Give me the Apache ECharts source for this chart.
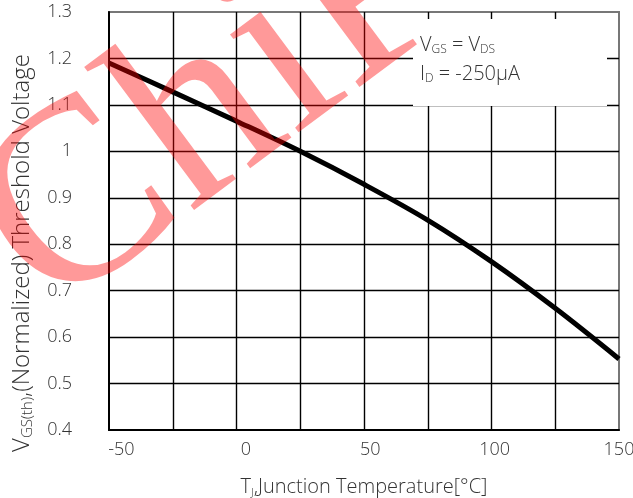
<!DOCTYPE html>
<html>
<head>
<meta charset="utf-8">
<script src="https://cdn.jsdelivr.net/npm/echarts@6/dist/echarts.min.js"></script>
<style>
  html, body { margin: 0; padding: 0; background: #fff; }
  #chart { width: 633px; height: 498px; }
</style>
</head>
<body>
<div id="chart"></div>
<script>
// ---- data ----
const temperature = [-55, -29.4, -3.75, 21.9, 47.5, 73.1, 98.6, 124.4, 150];
const vthNormalized = [1.19, 1.128, 1.065, 1.0, 0.929, 0.852, 0.763, 0.662, 0.553];
const xTickValues = [-50, 0, 50, 100, 150];
const xRange = [-55, 150];
const yRange = [0.4, 1.3];
const yStep = 0.1;
const gridColumns = 8;
const conditionLines = ['V{s|GS} = V{s|DS}', 'I{s|D} = -250μA'];
const xTitle = 'T{s|J},Junction Temperature[°C]';
const yTitle = 'V{s|GS(th)},(Normalized) Threshold Voltage';
const watermarkText = 'ChiPs';

const FONT = '"Open Sans", "Noto Sans", sans-serif';
const TXT = '#333';

const chart = echarts.init(document.getElementById('chart'), null, { renderer: 'canvas' });

const points = temperature.map((t, i) => [t, vthNormalized[i]]);

chart.setOption({
  animation: false,
  backgroundColor: '#fff',
  grid: {
    left: 109, right: 14, top: 12, bottom: 68,
    outerBoundsMode: 'none', containLabel: false,
    show: true, borderColor: '#777', borderWidth: 2, backgroundColor: 'transparent'
  },
  xAxis: [
    {
      type: 'value', min: xRange[0], max: xRange[1],
      axisLine: { show: true, onZero: false, lineStyle: { color: '#000', width: 2 } },
      axisTick: { show: false },
      splitLine: { show: false },
      axisLabel: {
        customValues: xTickValues, margin: 11,
        color: TXT, fontFamily: FONT, fontSize: 18, fontWeight: 300
      },
      name: xTitle, nameLocation: 'middle', nameGap: 47,
      nameTextStyle: {
        color: TXT, fontFamily: FONT, fontSize: 20, fontWeight: 300,
        rich: { s: { fontSize: 11, padding: [10, 0, 0, 0], color: TXT, fontFamily: FONT, fontWeight: 300 } }
      }
    },
    {
      type: 'value', min: 0, max: gridColumns, interval: 1, position: 'bottom',
      axisLine: { show: false }, axisTick: { show: false }, axisLabel: { show: false },
      splitLine: { show: true, showMinLine: false, showMaxLine: false, lineStyle: { color: '#000', width: 1.4 } }
    }
  ],
  yAxis: {
    type: 'value', min: yRange[0], max: yRange[1], interval: yStep,
    axisLine: { show: true, onZero: false, lineStyle: { color: '#000', width: 2 } },
    axisTick: { show: false },
    splitLine: { show: true, showMinLine: false, showMaxLine: false, lineStyle: { color: '#000', width: 1.4 } },
    axisLabel: {
      margin: 37, color: TXT, fontFamily: FONT, fontSize: 18, fontWeight: 300,
      formatter: v => String(Number(v.toFixed(1)))
    }
  },
  series: [{
    type: 'line', xAxisIndex: 0, data: points,
    smooth: 0.35, showSymbol: false, symbol: 'none',
    lineStyle: { color: '#000', width: 5 }, z: 5
  }],
  graphic: [
    {
      type: 'rect', z: 10,
      shape: { x: 413, y: 19, width: 194, height: 87 },
      style: { fill: '#fff' }
    },
    {
      type: 'text', z: 11, x: 420, y: 45,
      style: {
        text: conditionLines[0], fill: TXT, fontSize: 20, fontFamily: FONT, fontWeight: 300,
        verticalAlign: 'middle', align: 'left',
        rich: { s: { fontSize: 12, fontFamily: FONT, fontWeight: 300, fill: TXT, padding: [9, 0, 0, 0] } }
      }
    },
    {
      type: 'text', z: 11, x: 420, y: 74,
      style: {
        text: conditionLines[1], fill: TXT, fontSize: 20, fontFamily: FONT, fontWeight: 300,
        verticalAlign: 'middle', align: 'left',
        rich: { s: { fontSize: 12, fontFamily: FONT, fontWeight: 300, fill: TXT, padding: [9, 0, 0, 0] } }
      }
    },
    {
      type: 'text', z: 11, x: 22, y: 253, rotation: Math.PI / 2,
      style: {
        text: yTitle, fill: TXT, fontSize: 24, fontFamily: FONT, fontWeight: 300,
        verticalAlign: 'middle', align: 'center',
        rich: { s: { fontSize: 15, fontFamily: FONT, fontWeight: 300, fill: TXT, padding: [11, 0, 0, 0] } }
      }
    },
    {
      type: 'text', z: 50, x: 10, y: 262, rotation: 0.64, silent: true,
      style: {
        text: watermarkText, fill: 'rgba(255,0,0,0.4)',
        fontSize: 260, fontFamily: '"Liberation Serif", "DejaVu Serif", serif',
        verticalAlign: 'middle', align: 'left'
      }
    }
  ]
});
</script>
</body>
</html>
